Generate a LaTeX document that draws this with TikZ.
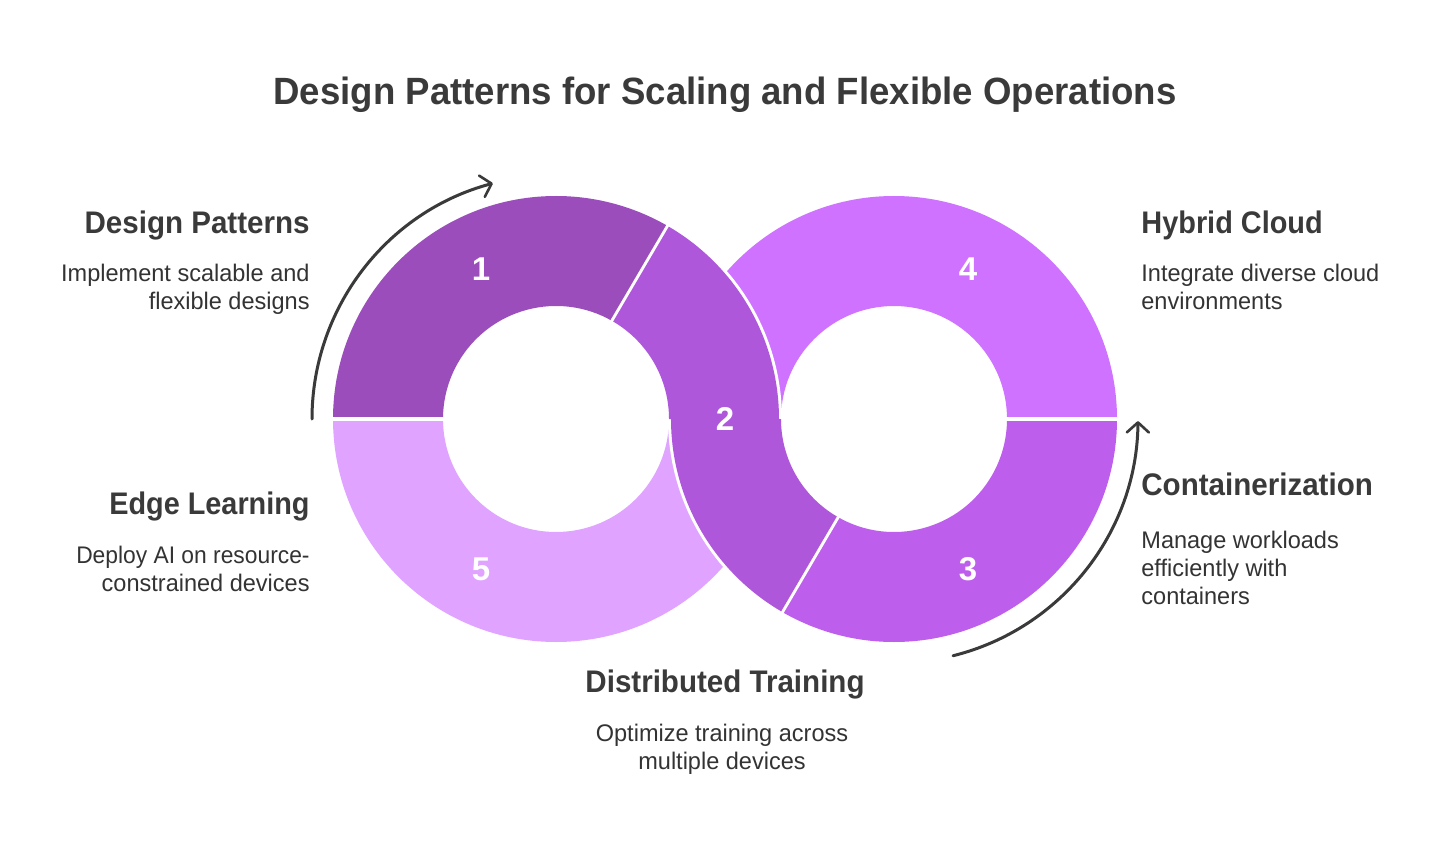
\documentclass[tikz,border=0pt]{standalone}
\usepackage{graphicx}
\usepackage{fontspec}
\setmainfont{Liberation Sans}
\newfontfamily\titlef{Liberation Sans}[FakeStretch=0.963]
\newfontfamily\headf{Liberation Sans}[FakeStretch=0.947]
\newfontfamily\bodyf{Liberation Sans}[FakeStretch=0.98]
\usetikzlibrary{arrows.meta}
\definecolor{segA}{HTML}{9A4DBB}
\definecolor{segB}{HTML}{AF57DB}
\definecolor{segC}{HTML}{BE5EEC}
\definecolor{segD}{HTML}{CE72FF}
\definecolor{segE}{HTML}{E0A3FF}
\definecolor{ink}{HTML}{3A3A3A}
\definecolor{inkb}{HTML}{333333}
\tikzset{
  x=0.5pt,y=0.5pt,
  titletext/.style={font=\titlef\fontsize{19pt}{23pt}\selectfont\bfseries,text=ink,inner sep=0pt,anchor=base},
  headtext/.style={font=\headf\fontsize{15.6pt}{18pt}\selectfont\bfseries,text=ink,inner sep=0pt},
  bodytext/.style={font=\bodyf\fontsize{12pt}{14pt}\selectfont,text=inkb,inner sep=0pt},
  numtext/.style={font=\fontsize{16.5pt}{18pt}\selectfont\bfseries,text=white,inner sep=0pt,anchor=center},
  flowarrow/.style={draw=ink,line width=1.5pt,line cap=round,-{Straight Barb[length=5pt,width=11pt,line width=1.3pt,round]}},
  halo/.style={draw=white,line width=3pt},
}
\begin{document}
\begin{tikzpicture}
\useasboundingbox (0,0) rectangle (1456,842);
\fill[white] (0,0) rectangle (1456,842);
\coordinate (L) at (556,423);
\coordinate (R) at (894,423);
% rings
\fill[segE] ([shift={(180:223)}]L) arc[start angle=180,end angle=360,radius=111.5pt]
   -- ([shift={(360:113)}]L) arc[start angle=360,end angle=180,radius=56.5pt] -- cycle;
\fill[segD] ([shift={(0:223)}]R) arc[start angle=0,end angle=180,radius=111.5pt]
   -- ([shift={(180:113)}]R) arc[start angle=180,end angle=0,radius=56.5pt] -- cycle;
\fill[segA] ([shift={(180:223)}]L) arc[start angle=180,end angle=60,radius=111.5pt]
   -- ([shift={(60:113)}]L) arc[start angle=60,end angle=180,radius=56.5pt] -- cycle;
\fill[segC] ([shift={(360:223)}]R) arc[start angle=360,end angle=240,radius=111.5pt]
   -- ([shift={(240:113)}]R) arc[start angle=240,end angle=360,radius=56.5pt] -- cycle;
% horizontal gaps between upper and lower halves
\coordinate (gapLa) at (320,423);
\coordinate (gapLb) at (450,423);
\coordinate (gapRa) at (1000,423);
\coordinate (gapRb) at (1130,423);
\draw[white,line width=1.7pt] (gapLa) -- (gapLb);
\draw[white,line width=1.7pt] (gapRa) -- (gapRb);
% middle band: white halo first, then fill
\def\bandpath{([shift={(59.6:223)}]L) arc[start angle=59.6,end angle=0,radius=111.5pt]
   -- ([shift={(180:113)}]R) arc[start angle=180,end angle=239.6,radius=56.5pt]
   -- ([shift={(239.6:223)}]R) arc[start angle=239.6,end angle=180,radius=111.5pt]
   -- ([shift={(0:113)}]L) arc[start angle=0,end angle=59.6,radius=56.5pt] -- cycle}
\draw[halo] \bandpath;
\fill[segB] \bandpath;
% arrows
\coordinate (arrA) at ([shift={(180:244)}]L);
\coordinate (arrB) at ([shift={(284:244)}]R);
\draw[flowarrow] (arrA) arc[start angle=180,end angle=105,radius=122pt];
\draw[flowarrow] (arrB) arc[start angle=284,end angle=359.5,radius=122pt];
% numbers
\node[numtext] (n1) at (481,573) {1};
\node[numtext] (n2) at (725,423) {2};
\node[numtext] (n3) at (968,273) {3};
\node[numtext] (n4) at (968,573) {4};
\node[numtext] (n5) at (481,273) {5};
% title
\node[titletext] (title) at (725,737) {Design Patterns for Scaling and Flexible Operations};
% labels
\node[headtext,anchor=base east] (h1) at (310,608.5) {Design Patterns};
\node[bodytext,anchor=base east,align=right] (b1) at (310,532) {Implement scalable and\\flexible designs};
\node[headtext,anchor=base west] (h4) at (1141,608.5) {\scalebox{0.978}[1]{Hybrid Cloud}};
\node[bodytext,anchor=base west,align=left] (b4) at (1141,532) {Integrate diverse cloud\\environments};
\node[headtext,anchor=base west] (h3) at (1141,347) {Containerization};
\node[bodytext,anchor=base west,align=left] (b3) at (1141,237.5) {Manage workloads\\efficiently with\\containers};
\node[headtext,anchor=base east] (h5) at (310,328) {\scalebox{0.976}[1]{Edge Learning}};
\node[bodytext,anchor=base east,align=right] (b5) at (310,251) {\scalebox{0.97}[1]{Deploy AI on resource-}\\constrained devices};
\node[headtext,anchor=base] (h2) at (725,150) {Distributed Training};
\node[bodytext,anchor=base,align=center] (b2) at (722,73) {Optimize training across\\multiple devices};
\end{tikzpicture}
\end{document}
